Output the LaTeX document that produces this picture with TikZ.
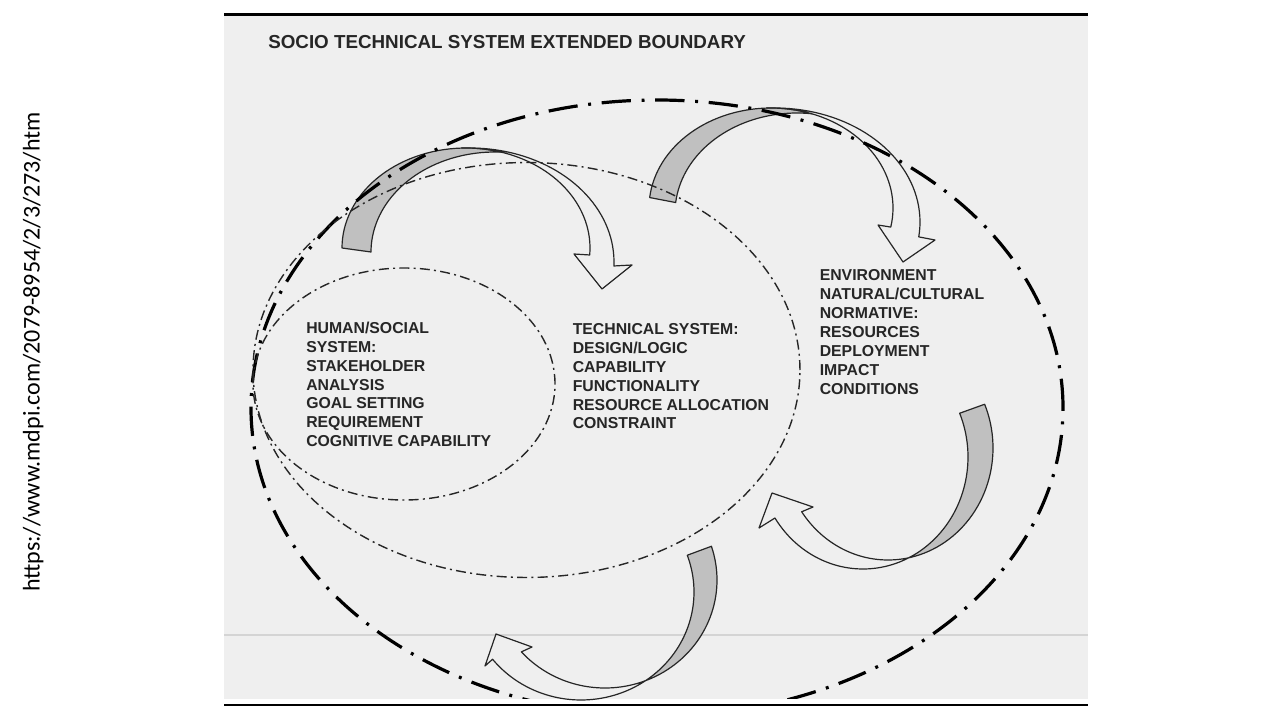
\documentclass[tikz,border=0pt]{standalone}
\usepackage{fontspec}
\setmainfont{Liberation Sans}
\newfontfamily\urlfont{Carlito}
\definecolor{panel}{RGB}{239,239,239}
\definecolor{arrgrey}{RGB}{192,192,192}
\definecolor{ink}{RGB}{38,38,38}
\definecolor{faint}{RGB}{212,212,212}
\begin{document}
\begin{tikzpicture}[x=0.75pt,y=-0.75pt,
  bigell/.style={line width=2.4pt, black, dash pattern=on 22pt off 8pt on 2.2pt off 8pt},
  thinell/.style={line width=1.05pt, ink, dash pattern=on 7.5pt off 3.2pt on 1.5pt off 3.2pt},
  backface/.style={fill=arrgrey, draw=ink, line width=0.9pt, line join=round},
  frontface/.style={fill=panel, draw=ink, line width=0.9pt, line join=round},
  blocktext/.style={anchor=north west, inner sep=0pt, align=left, text=ink,
    font=\bfseries\fontsize{11.85pt}{14.2pt}\selectfont},
  titletext/.style={anchor=north west, inner sep=0pt, text=ink,
    font=\bfseries\fontsize{14.1pt}{17pt}\selectfont},
  urltext/.style={rotate=90, anchor=base, inner sep=0pt, text=black,
    font=\urlfont\fontsize{18pt}{20pt}\selectfont}
]
\useasboundingbox (0,0) rectangle (1280,720);
\fill[white] (0,0) rectangle (1280,720);
% panel
\fill[panel] (224,16) rectangle (1088,699);
\draw[line width=2.2pt] (224,14.5) -- (1088,14.5);
\draw[line width=2.2pt] (224,705) -- (1088,705);
\draw[faint, line width=0.8pt] (224,635) -- (1088,635);

% arrow 1 (top left)
\filldraw[backface] plot[domain=180:287,samples=40,variable=\t] ({466+124*cos(\t)},{248+100*sin(\t)})
  -- plot[domain=273:180,samples=40,variable=\t] ({495+124*cos(\t)},{252+100*sin(\t)}) -- cycle;
\filldraw[frontface] plot[domain=268:362,samples=40,variable=\t] ({470+144*cos(\t)},{262+114*sin(\t)})
  -- (632,265) -- (602,289) -- (574,254)
  -- plot[domain=364:268,samples=40,variable=\t] ({466+124*cos(\t)},{248+100*sin(\t)}) -- cycle;

% arrow 2 (top right)
\filldraw[backface] plot[domain=186:289.6,samples=40,variable=\t] ({771+122*cos(\t)},{208+100*sin(\t)})
  -- plot[domain=277.1:186,samples=40,variable=\t] ({797+122*cos(\t)},{213+100*sin(\t)}) -- cycle;
\filldraw[frontface] plot[domain=268:367.5,samples=40,variable=\t] ({775+145*cos(\t)},{222+114*sin(\t)})
  -- (935,240) -- (903,262) -- (878,225)
  -- plot[domain=371:268,samples=40,variable=\t] ({771+122*cos(\t)},{208+100*sin(\t)}) -- cycle;

% arrow 3 (right)
\filldraw[backface] plot[domain=-23:77.9,samples=40,variable=\t] ({888+105*cos(\t)},{448+112*sin(\t)})
  -- plot[domain=63.4:-23,samples=40,variable=\t] ({863+105*cos(\t)},{457+112*sin(\t)}) -- cycle;
\filldraw[frontface] plot[domain=77.9:145.3,samples=40,variable=\t] ({888+105*cos(\t)},{448+112*sin(\t)})
  -- (813,507) -- (772,493) -- (759,528)
  -- plot[domain=147:63.4,samples=40,variable=\t] ({863+105*cos(\t)},{457+112*sin(\t)}) -- cycle;

% arrow 4 (bottom)
\filldraw[backface] plot[domain=-18.2:69.6,samples=40,variable=\t] ({605+112*cos(\t)},{580+108*sin(\t)})
  -- plot[domain=55.7:-19.9,samples=40,variable=\t] ({581+113*cos(\t)},{592+108*sin(\t)}) -- cycle;
\filldraw[frontface] plot[domain=69.6:138.3,samples=40,variable=\t] ({605+112*cos(\t)},{580+108*sin(\t)})
  -- (532,647) -- (496,634) -- (485,666)
  -- plot[domain=141.5:55.7,samples=40,variable=\t] ({581+113*cos(\t)},{592+108*sin(\t)}) -- cycle;

% boundaries
\begin{scope}
  \clip (224,16) rectangle (1088,698);
  \draw[bigell] (657,408) ellipse [x radius=304.5pt, y radius=231pt];
\end{scope}
\draw[thinell] (526.5,370) ellipse [x radius=205.1pt, y radius=155.6pt];
\draw[thinell] (404,384) ellipse [x radius=113.25pt, y radius=87pt];

% texts
\node[titletext] (title) at (268,35.5) {SOCIO TECHNICAL SYSTEM EXTENDED BOUNDARY};
\node[blocktext] (human) at (306,321.5) {HUMAN/SOCIAL\\SYSTEM:\\STAKEHOLDER\\ANALYSIS\\GOAL SETTING\\REQUIREMENT\\COGNITIVE CAPABILITY};
\node[blocktext] (tech) at (572.5,323) {TECHNICAL SYSTEM:\\DESIGN/LOGIC\\CAPABILITY\\FUNCTIONALITY\\RESOURCE ALLOCATION\\CONSTRAINT};
\node[blocktext] (env) at (819.5,269.5) {ENVIRONMENT\\NATURAL/CULTURAL\\NORMATIVE:\\RESOURCES\\DEPLOYMENT\\IMPACT\\CONDITIONS};
\node[urltext] (url) at (39.5,352) {https://www.mdpi.com/2079-8954/2/3/273/htm};
\end{tikzpicture}
\end{document}
